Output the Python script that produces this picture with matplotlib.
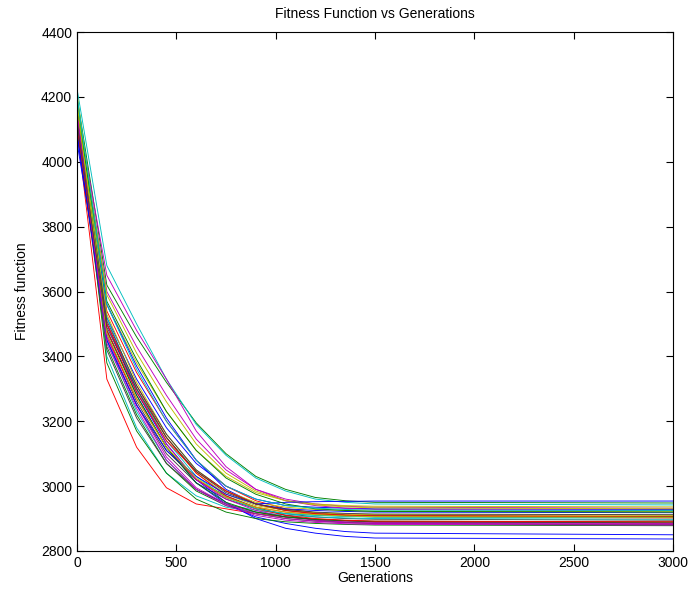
import matplotlib
matplotlib.use("Agg")
import matplotlib.pyplot as plt

plt.rcParams["font.family"] = ["Liberation Sans", "DejaVu Sans"]

# generations at which the fitness was logged (flat after 1500)
generations = [0, 150, 300, 450, 600, 750, 900, 1050, 1200, 1350, 1500, 3000]

# runs grouped by the MATLAB colour they were drawn with
blue_runs = [
    [4120, 3520, 3330, 3180, 3070, 3000, 2960, 2940, 2935, 2932, 2930, 2928],
    [4080, 3480, 3280, 3120, 3010, 2945, 2905, 2885, 2870, 2860, 2855, 2850],
    [4060, 3500, 3290, 3130, 3020, 2950, 2900, 2870, 2855, 2845, 2840, 2837],
    [4110, 3560, 3370, 3210, 3080, 2990, 2945, 2930, 2925, 2922, 2920, 2918],
    [4090, 3450, 3250, 3110, 3030, 2975, 2945, 2950, 2952, 2953, 2954, 2954],
]
green_runs = [
    [4200, 3620, 3460, 3320, 3195, 3100, 3030, 2990, 2965, 2955, 2950, 2948],
    [4150, 3430, 3220, 3070, 2985, 2940, 2915, 2900, 2892, 2888, 2885, 2880],
    [4180, 3380, 3170, 3040, 2960, 2920, 2900, 2890, 2885, 2882, 2880, 2878],
    [4190, 3480, 3280, 3120, 3010, 2950, 2920, 2905, 2898, 2894, 2892, 2890],
    [4170, 3570, 3390, 3230, 3110, 3025, 2975, 2945, 2930, 2925, 2922, 2920],
]
red_runs = [
    [4100, 3330, 3120, 2995, 2945, 2930, 2915, 2905, 2898, 2893, 2890, 2886],
    [4140, 3540, 3350, 3200, 3080, 3000, 2955, 2930, 2918, 2912, 2910, 2907],
    [4120, 3460, 3270, 3120, 3020, 2965, 2935, 2920, 2912, 2908, 2905, 2902],
    [4130, 3500, 3310, 3150, 3040, 2970, 2930, 2910, 2900, 2895, 2892, 2890],
    [4110, 3480, 3290, 3140, 3045, 2985, 2945, 2925, 2915, 2910, 2908, 2905],
]
cyan_runs = [
    [4225, 3680, 3500, 3330, 3190, 3095, 3025, 2985, 2960, 2950, 2945, 2942],
    [4190, 3400, 3180, 3040, 2970, 2935, 2920, 2910, 2905, 2902, 2900, 2898],
    [4200, 3450, 3230, 3080, 2990, 2945, 2925, 2915, 2910, 2907, 2905, 2903],
    [4180, 3520, 3300, 3140, 3030, 2965, 2930, 2915, 2910, 2907, 2905, 2904],
    [4200, 3560, 3360, 3200, 3080, 3000, 2960, 2940, 2932, 2928, 2926, 2925],
]
magenta_runs = [
    [4170, 3600, 3430, 3280, 3145, 3050, 2990, 2960, 2945, 2938, 2935, 2932],
    [4160, 3650, 3480, 3330, 3170, 3060, 2990, 2955, 2940, 2932, 2928, 2925],
    [4150, 3500, 3300, 3130, 3020, 2960, 2925, 2905, 2895, 2890, 2888, 2885],
    [4140, 3460, 3250, 3090, 2995, 2945, 2915, 2900, 2892, 2887, 2885, 2883],
    [4150, 3440, 3240, 3080, 2990, 2940, 2910, 2895, 2888, 2884, 2882, 2880],
]
yellow_runs = [
    [4190, 3560, 3380, 3230, 3110, 3030, 2980, 2955, 2945, 2940, 2938, 2936],
    [4210, 3500, 3300, 3150, 3040, 2975, 2940, 2925, 2918, 2914, 2912, 2910],
    [4170, 3590, 3410, 3260, 3130, 3040, 2985, 2955, 2942, 2936, 2933, 2930],
    [4160, 3530, 3320, 3160, 3050, 2985, 2950, 2935, 2928, 2925, 2923, 2921],
    [4180, 3470, 3270, 3120, 3025, 2965, 2935, 2920, 2912, 2908, 2906, 2904],
]
dark_runs = [
    [4110, 3450, 3250, 3100, 3010, 2960, 2930, 2915, 2905, 2900, 2898, 2895],
    [4130, 3470, 3260, 3110, 3020, 2970, 2935, 2910, 2895, 2888, 2885, 2882],
    [4100, 3420, 3210, 3070, 2990, 2945, 2920, 2905, 2897, 2893, 2890, 2887],
    [4140, 3510, 3310, 3160, 3050, 2985, 2945, 2925, 2915, 2910, 2908, 2906],
    [4120, 3490, 3300, 3150, 3045, 2980, 2945, 2928, 2920, 2916, 2914, 2912],
]

run_groups = [blue_runs, green_runs, red_runs, cyan_runs, magenta_runs, yellow_runs, dark_runs]
matlab_colors = ["#0000ff", "#008000", "#ff0000", "#00bfbf", "#bf00bf", "#bfbf00", "#404040"]

fig = plt.figure(figsize=(6.89, 5.91), dpi=100)
ax = fig.add_axes([0.1118, 0.0677, 0.865, 0.878])

# plot in run order so the colours cycle like MATLAB's default
for i in range(5):
    for group, color in zip(run_groups, matlab_colors):
        ax.plot(generations, group[i], color=color, linewidth=0.65)

ax.set_xlim(0, 3000)
ax.set_ylim(2800, 4400)
ax.set_xticks(range(0, 3001, 500))
ax.set_yticks(range(2800, 4401, 200))
ax.tick_params(direction="in", top=True, right=True, length=5, width=0.8, labelsize=10)
for spine in ax.spines.values():
    spine.set_linewidth(0.8)

ax.set_title("Fitness Function vs Generations", fontsize=10, pad=10)
ax.set_xlabel("Generations", fontsize=10, labelpad=1)
ax.set_ylabel("Fitness function", fontsize=10, labelpad=9)

fig.savefig("out.png", dpi=100)
